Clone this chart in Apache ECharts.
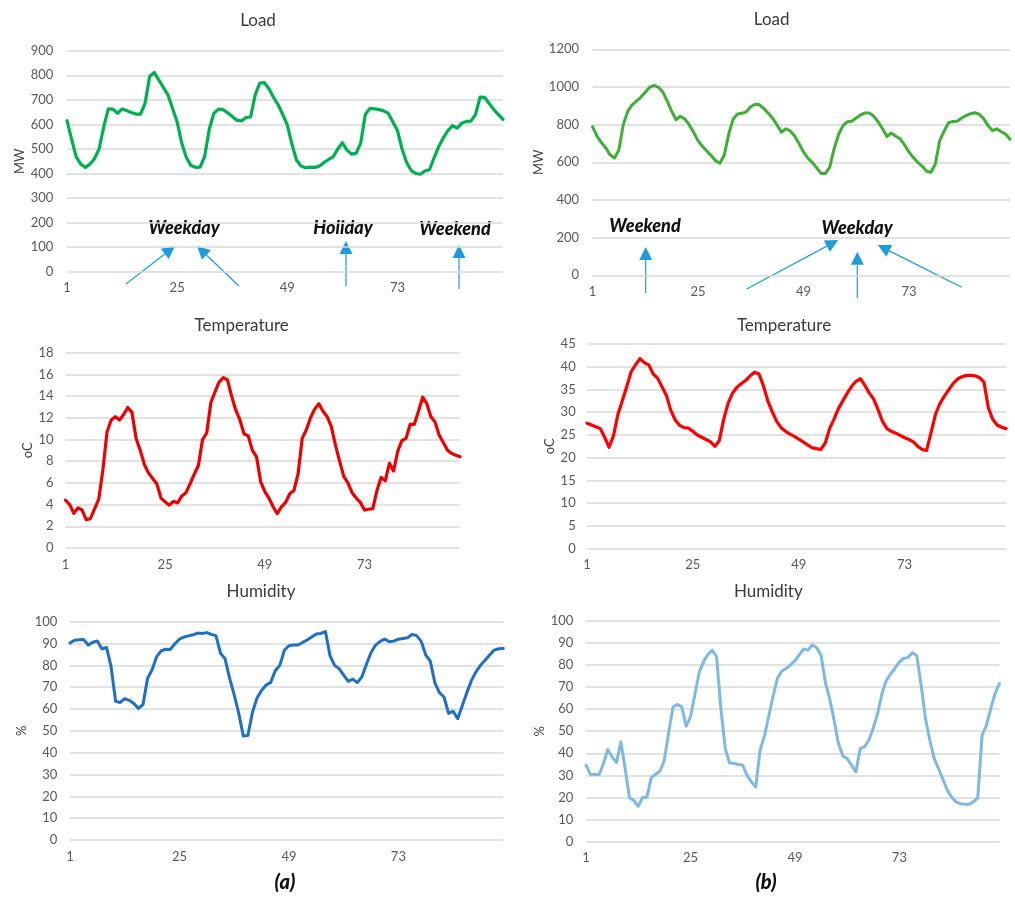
<!DOCTYPE html>
<html>
<head>
<meta charset="utf-8">
<script src="https://cdn.jsdelivr.net/npm/echarts@6/dist/echarts.min.js"></script>
<style>
  html, body { margin: 0; padding: 0; background: #ffffff; }
  #chart { width: 1015px; height: 900px; }
</style>
</head>
<body>
<div id="chart"></div>
<script>
// Hour index of the 4-day window (1..96)
const hours = Array.from({ length: 96 }, (_, i) => String(i + 1));

// (a) Load, MW
const loadA = [615, 540, 468, 438, 425, 438, 461, 500, 590, 663, 662, 645, 663, 656, 648, 642, 642, 685, 795, 811,
  781, 750, 720, 665, 610, 523, 465, 432, 425, 426, 470, 580, 645, 662, 660, 647, 632, 617, 614, 628,
  630, 720, 768, 770, 745, 710, 680, 640, 598, 520, 455, 430, 423, 426, 425, 430, 445, 457, 468, 500,
  525, 495, 479, 483, 525, 640, 665, 663, 660, 655, 645, 610, 575, 500, 445, 412, 400, 397, 410, 416,
  465, 510, 545, 575, 595, 585, 605, 612, 613, 640, 711, 710, 685, 660, 640, 620];

// (b) Load, MW
const loadB = [790, 740, 705, 678, 640, 622, 665, 800, 870, 905, 925, 945, 972, 998, 1008, 998, 973, 925, 872, 826,
  845, 830, 800, 760, 715, 685, 660, 636, 608, 595, 640, 750, 830, 857, 860, 868, 895, 908, 905, 885,
  860, 833, 798, 760, 778, 766, 740, 700, 655, 622, 600, 570, 541, 541, 575, 675, 748, 795, 815, 818,
  835, 852, 862, 862, 844, 815, 778, 737, 755, 738, 725, 692, 655, 625, 600, 580, 552, 547, 590, 715,
  765, 810, 817, 818, 835, 848, 858, 863, 855, 832, 795, 768, 778, 762, 750, 722];

// (a) Temperature, oC
const tempA = [4.4, 4.0, 3.2, 3.7, 3.5, 2.6, 2.7, 3.6, 4.5, 7.2, 10.7, 11.8, 12.1, 11.8, 12.3, 12.95, 12.5, 10.1, 9.0, 7.7,
  6.9, 6.4, 5.9, 4.6, 4.25, 3.95, 4.3, 4.15, 4.8, 5.1, 5.9, 6.8, 7.6, 10.0, 10.6, 13.4, 14.4, 15.3, 15.7, 15.5,
  14.0, 12.7, 11.8, 10.5, 10.35, 9.0, 8.4, 6.1, 5.2, 4.6, 3.8, 3.17, 3.8, 4.2, 5.0, 5.3, 6.8, 10.1, 10.9, 12.0,
  12.8, 13.3, 12.6, 12.1, 11.2, 9.5, 8.0, 6.6, 6.0, 5.1, 4.6, 4.2, 3.5, 3.57, 3.63, 5.3, 6.5, 6.2, 7.8, 7.1,
  8.9, 9.9, 10.1, 11.4, 11.4, 12.6, 13.9, 13.3, 12.1, 11.6, 10.4, 9.7, 9.0, 8.7, 8.55, 8.4];

// (b) Temperature, oC
const tempB = [27.6, 27.2, 26.8, 26.4, 24.5, 22.3, 24.8, 29.5, 32.5, 35.6, 38.9, 40.4, 41.8, 40.9, 40.4, 38.4, 37.5, 35.6, 33.7, 30.4,
  28.3, 27.1, 26.6, 26.5, 25.8, 25.0, 24.5, 24.0, 23.5, 22.5, 23.8, 28.5, 32.0, 34.2, 35.5, 36.3, 37.0, 38.0, 38.8, 38.4,
  35.8, 32.5, 30.1, 28.0, 26.6, 25.8, 25.2, 24.7, 24.1, 23.5, 22.8, 22.2, 22.0, 21.8, 23.2, 26.4, 28.5, 30.8, 32.5, 34.2,
  35.7, 36.8, 37.4, 35.9, 34.2, 32.9, 30.5, 28.0, 26.4, 25.8, 25.4, 24.9, 24.4, 24.0, 23.5, 22.5, 21.8, 21.6, 25.5, 29.5,
  31.9, 33.5, 34.9, 36.3, 37.3, 37.8, 38.1, 38.1, 38.0, 37.6, 36.6, 31.0, 28.4, 27.2, 26.7, 26.4];

// (a) Humidity, %
const humA = [90.2, 91.5, 91.7, 91.8, 89.3, 90.6, 91.2, 87.5, 88.2, 79.5, 63.5, 63.0, 64.8, 64.0, 62.5, 60.3, 62.0, 74.0, 78.0, 84.0,
  86.7, 87.4, 87.3, 89.9, 92.0, 93.0, 93.5, 94.0, 94.8, 94.6, 95.0, 94.2, 93.6, 85.5, 83.0, 74.0, 66.5, 58.0, 47.6, 47.9,
  58.5, 65.0, 68.5, 71.0, 72.2, 77.5, 80.0, 87.0, 89.0, 89.3, 89.3, 90.5, 91.6, 93.0, 94.4, 94.6, 95.5, 84.5, 80.0, 78.5,
  75.5, 72.7, 73.7, 72.1, 74.8, 80.5, 85.9, 89.3, 91.0, 92.0, 90.8, 91.1, 92.0, 92.3, 92.6, 94.2, 93.6, 91.0, 84.7, 81.9,
  72.0, 67.5, 65.5, 58.0, 59.0, 55.6, 61.5, 67.5, 73.0, 77.0, 80.0, 82.3, 84.7, 87.0, 87.6, 87.7];

// (b) Humidity, %
const humB = [34.6, 30.5, 30.4, 30.4, 35.3, 41.7, 38.4, 35.8, 45.2, 33.0, 19.8, 18.7, 16.0, 20.0, 20.2, 29.0, 30.5, 31.9, 36.9, 49.7,
  61.0, 62.1, 61.0, 52.3, 56.5, 66.5, 76.6, 81.4, 84.7, 86.7, 83.7, 60.0, 42.1, 35.6, 35.5, 34.9, 34.6, 30.0, 27.0, 24.8,
  41.5, 47.9, 57.0, 66.0, 74.0, 77.2, 78.4, 80.0, 82.0, 84.5, 87.2, 86.7, 89.0, 87.8, 84.4, 72.0, 64.5, 55.0, 44.4, 38.8,
  37.6, 34.6, 31.6, 42.1, 43.0, 46.0, 51.5, 58.0, 67.0, 73.0, 76.0, 78.5, 81.4, 82.9, 83.4, 85.5, 84.1, 70.8, 55.7, 45.9,
  37.6, 33.1, 28.2, 23.3, 20.2, 18.0, 17.2, 16.9, 16.9, 18.0, 19.8, 48.2, 52.7, 60.3, 67.1, 71.6];

const FONT = 'Lato, "Open Sans", "Noto Sans", sans-serif';
const GRID_COLOR = '#d9d9d9';
const LABEL_COLOR = '#595959';
const TITLE_COLOR = '#3a3a3a';
const ARROW_COLOR = '#1f9bd9';

// Layout and style of the six small charts
const panels = [
  { title: 'Load', tx: 258, ty: 21, left: 67, top: 50.7, width: 436, height: 221,
    max: 900, step: 100, unit: 'MW', gap: 41, margin: 13.7, data: loadA, color: '#00b050', lw: 3.2 },
  { title: 'Load', tx: 771.7, ty: 20, left: 592.5, top: 49.3, width: 417.5, height: 226,
    max: 1200, step: 200, unit: 'MW', gap: 47.5, margin: 13.5, data: loadB, color: '#3fae35', lw: 3 },
  { title: 'Temperature', tx: 241.7, ty: 326, left: 65.5, top: 352.7, width: 394.5, height: 195.3,
    max: 18, step: 2, unit: 'oC', gap: 30.5, margin: 12, data: tempA, color: '#ee0000', lw: 3.2 },
  { title: 'Temperature', tx: 784, ty: 326, left: 587, top: 344, width: 419, height: 204.7,
    max: 45, step: 5, unit: 'oC', gap: 22, margin: 11.3, data: tempB, color: '#ff0000', lw: 3.2 },
  { title: 'Humidity', tx: 261, ty: 591.7, left: 70, top: 621.7, width: 433.3, height: 218.3,
    max: 100, step: 10, unit: '%', gap: 41.7, margin: 12.7, data: humA, color: '#1f6fc5', lw: 3 },
  { title: 'Humidity', tx: 768.3, ty: 591.7, left: 586, top: 620.7, width: 413.5, height: 221,
    max: 100, step: 10, unit: '%', gap: 39, margin: 12.7, data: humB, color: '#7db9e3', lw: 3 }
];

// Day-type annotations on the load charts
const notes = [
  { text: 'Weekday', x: 184, y: 228 },
  { text: 'Holiday', x: 343, y: 228 },
  { text: 'Weekend', x: 455, y: 229 },
  { text: 'Weekend', x: 645, y: 226 },
  { text: 'Weekday', x: 857, y: 228 }
];
const arrows = [
  [126, 284, 175, 246], [239, 286, 197, 246], [346, 286, 346, 241], [459, 289, 459, 245],
  [645.7, 293, 645.7, 247], [746.7, 289, 838.3, 240], [857.3, 298, 857.3, 251.7], [961.7, 287.3, 877.7, 245]
];
const captions = [
  { text: '(a)', x: 285, y: 883 },
  { text: '(b)', x: 766, y: 883 }
];

function textEl(t, x, y, font, fill) {
  return {
    type: 'text', x: x, y: y, silent: true,
    style: { text: t, font: font, fill: fill, align: 'center', verticalAlign: 'middle',
             textAlign: 'center', textVerticalAlign: 'middle' }
  };
}

function arrowEls(a) {
  const [x1, y1, x2, y2] = a;
  const ang = Math.atan2(y2 - y1, x2 - x1);
  const L = 13, W = 6.5;
  const c = Math.cos(ang), s = Math.sin(ang);
  const bx = x2 - L * c, by = y2 - L * s;
  return [
    { type: 'line', silent: true, shape: { x1: x1, y1: y1, x2: bx, y2: by },
      style: { stroke: ARROW_COLOR, lineWidth: 1.2 } },
    { type: 'polygon', silent: true,
      shape: { points: [[x2, y2], [bx - W * s, by + W * c], [bx + W * s, by - W * c]] },
      style: { fill: ARROW_COLOR } }
  ];
}

const grids = [], xAxes = [], yAxes = [], series = [], graphics = [];
panels.forEach((p, i) => {
  grids.push({ left: p.left, top: p.top, width: p.width, height: p.height, containLabel: false });
  xAxes.push({
    type: 'category', gridIndex: i, data: hours, boundaryGap: false,
    axisLine: { show: false }, axisTick: { show: false }, splitLine: { show: false },
    axisLabel: { interval: 23, color: LABEL_COLOR, fontSize: 13, fontFamily: FONT, margin: 10 }
  });
  yAxes.push({
    type: 'value', gridIndex: i, min: 0, max: p.max, interval: p.step,
    name: p.unit, nameLocation: 'middle', nameRotate: 90, nameGap: p.gap,
    nameTextStyle: { color: '#404040', fontSize: 13, fontFamily: FONT },
    axisLine: { show: false }, axisTick: { show: false },
    axisLabel: { color: LABEL_COLOR, fontSize: 13, fontFamily: FONT, margin: p.margin,
                 formatter: v => String(v) },
    splitLine: { lineStyle: { color: GRID_COLOR, width: 1.5 } }
  });
  series.push({
    type: 'line', xAxisIndex: i, yAxisIndex: i, data: p.data,
    showSymbol: false, smooth: false, animation: false,
    lineStyle: { color: p.color, width: p.lw, join: 'round', cap: 'round' }
  });
  graphics.push(textEl(p.title, p.tx, p.ty, '17px ' + FONT, TITLE_COLOR));
});
notes.forEach(n => graphics.push(textEl(n.text, n.x, n.y, 'italic 900 18px ' + FONT, '#111111')));
arrows.forEach(a => graphics.push(...arrowEls(a)));
captions.forEach(c => graphics.push(textEl(c.text, c.x, c.y, 'italic 900 20px ' + FONT, '#111111')));

const chart = echarts.init(document.getElementById('chart'), null, { renderer: 'canvas' });
chart.setOption({
  backgroundColor: '#ffffff',
  animation: false,
  grid: grids,
  xAxis: xAxes,
  yAxis: yAxes,
  series: series,
  graphic: { elements: graphics }
});
</script>
</body>
</html>
